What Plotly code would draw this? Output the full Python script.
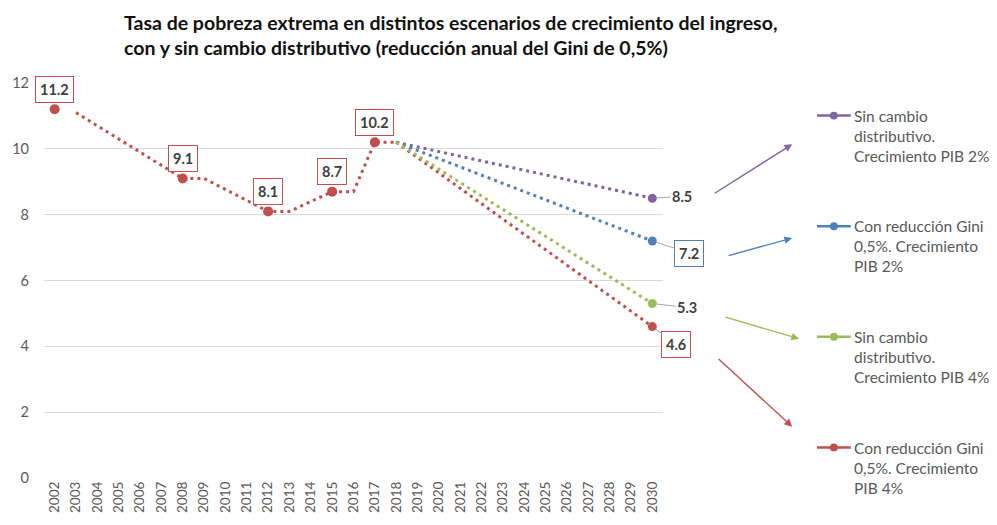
import plotly.graph_objects as go

# ---------------- data ----------------
tick_years = list(range(2002, 2031))
y_ticks = [0, 2, 4, 6, 8, 10, 12]

hist_line_years = [2003, 2008, 2009, 2012, 2013, 2015, 2016, 2017, 2018]
hist_line_values = [11.1, 9.1, 9.1, 8.1, 8.1, 8.7, 8.7, 10.2, 10.2]

hist_marker_years = [2002, 2008, 2012, 2015, 2017]
hist_marker_values = [11.2, 9.1, 8.1, 8.7, 10.2]

scen_years = [2018, 2030]
scen_names = [
    "Sin cambio<br>distributivo.<br>Crecimiento PIB 2%",
    "Con reducción Gini<br>0,5%. Crecimiento<br>PIB 2%",
    "Sin cambio<br>distributivo.<br>Crecimiento PIB 4%",
    "Con reducción Gini<br>0,5%. Crecimiento<br>PIB 4%",
]
scen_start = [10.2, 10.2, 10.2, 10.2]
scen_end = [8.5, 7.2, 5.3, 4.6]
scen_colors = ["#8064A2", "#4F81BD", "#9BBB59", "#C0504D"]

title_text = ("Tasa de pobreza extrema en distintos escenarios de crecimiento del ingreso,<br>"
              "con y sin cambio distributivo (reducción anual del Gini de 0,5%)")

# ---------------- layout geometry ----------------
W, H = 997, 525
L, R, T, B = 40, 334, 83, 42
PW, PH = W - L - R, H - T - B


def px(x):
    return (x - L) / PW


def py(y):
    return (H - B - y) / PH


FONT = "Lato"
GREY = "#595959"
RED = "#C0504D"
DASH = "3px,4px"

fig = go.Figure()

# historical line
fig.add_trace(go.Scatter(x=hist_line_years, y=hist_line_values, mode="lines",
                         line=dict(color=RED, width=3, dash=DASH),
                         showlegend=False, hoverinfo="skip"))

# scenario lines (draw so green sits on top near start)
order = [0, 1, 3, 2]
for i in order:
    fig.add_trace(go.Scatter(x=scen_years, y=[scen_start[i], scen_end[i]],
                             mode="lines", line=dict(color=scen_colors[i], width=3, dash=DASH),
                             showlegend=False, hoverinfo="skip"))
for i in order:
    fig.add_trace(go.Scatter(x=[scen_years[-1]], y=[scen_end[i]], mode="markers",
                             marker=dict(color=scen_colors[i], size=9),
                             showlegend=False, hoverinfo="skip"))

# historical markers
fig.add_trace(go.Scatter(x=hist_marker_years, y=hist_marker_values, mode="markers",
                         marker=dict(color=RED, size=10),
                         showlegend=False, hoverinfo="skip"))

annotations = []

# historical boxed labels
for xv, yv in zip(hist_marker_years, hist_marker_values):
    annotations.append(dict(x=xv, y=yv, xref="x", yref="y", text=f"<b>{yv:.1f}</b>",
                            showarrow=False, yshift=20,
                            font=dict(family=FONT, size=14.5, color="#404040"),
                            bgcolor="white", bordercolor=RED, borderwidth=1, borderpad=4))

# end labels with leader lines
end_label_offsets = [(30, -2), (37, 12), (35, 4), (24, 18)]
end_label_boxes = [None, "#4F81BD", None, RED]
for i in range(4):
    ax, ay = end_label_offsets[i]
    box = end_label_boxes[i]
    a = dict(x=scen_years[-1], y=scen_end[i], xref="x", yref="y",
             text=f"<b>{scen_end[i]:.1f}</b>", showarrow=True, arrowhead=0,
             arrowwidth=1, arrowcolor="#A6A6A6", ax=ax, ay=ay, standoff=4,
             font=dict(family=FONT, size=14.5, color="#404040"))
    if box:
        a.update(bgcolor="white", bordercolor=box, borderwidth=1, borderpad=4)
    annotations.append(a)

# title
annotations.append(dict(x=px(119), y=py(8), xref="paper", yref="paper",
                        xanchor="left", yanchor="top", align="left", showarrow=False,
                        text=f"<b>{title_text}</b>",
                        font=dict(family=FONT, size=19.5, color="#111111")))

# legend (custom)
legend_y = [116, 228, 340, 452]
shapes = []
for i in range(4):
    yy = legend_y[i]
    shapes.append(dict(type="line", xref="paper", yref="paper",
                       x0=px(818), x1=px(852), y0=py(yy), y1=py(yy),
                       line=dict(color=scen_colors[i], width=2.5)))
    shapes.append(dict(type="circle", xref="paper", yref="paper",
                       x0=px(831), x1=px(839), y0=py(yy - 4), y1=py(yy + 4),
                       fillcolor=scen_colors[i], line=dict(width=0)))
    annotations.append(dict(x=px(853), y=py(yy - 11), xref="paper", yref="paper",
                            xanchor="left", yanchor="top", align="left", showarrow=False,
                            text=scen_names[i],
                            font=dict(family=FONT, size=15.5, color=GREY)))

# arrows
arrow_heads = [(793, 145), (793, 240), (800, 342), (793, 431)]
arrow_tails = [(714, 195), (728, 258), (725, 320), (718, 362)]
for i in range(4):
    hx, hy = arrow_heads[i]
    tx, ty = arrow_tails[i]
    annotations.append(dict(x=px(hx), y=py(hy), xref="paper", yref="paper",
                            ax=tx - hx, ay=ty - hy, text="", showarrow=True,
                            arrowhead=2, arrowsize=1.1, arrowwidth=1.4,
                            arrowcolor=scen_colors[i]))

fig.update_layout(
    width=W, height=H,
    margin=dict(l=L, r=R, t=T, b=B, pad=0),
    paper_bgcolor="white", plot_bgcolor="white",
    showlegend=False,
    annotations=annotations,
    shapes=shapes,
    xaxis=dict(range=[2001.5, 2030.5], tickmode="array", tickvals=tick_years,
               ticktext=[str(y) for y in tick_years], tickangle=-90,
               tickfont=dict(family=FONT, size=13.5, color=GREY),
               showgrid=False, zeroline=False, showline=False, ticks=""),
    yaxis=dict(range=[0, 12], tickmode="array", tickvals=y_ticks,
               tickfont=dict(family=FONT, size=14.5, color=GREY),
               showgrid=True, gridcolor="#D9D9D9", gridwidth=1,
               zeroline=False, showline=False, ticks="", ticklabelstandoff=14),
)

fig.write_html("out.html",
               config={"displayModeBar": False, "staticPlot": True},
               post_script="document.body.style.margin='0';document.body.style.overflow='hidden';")
